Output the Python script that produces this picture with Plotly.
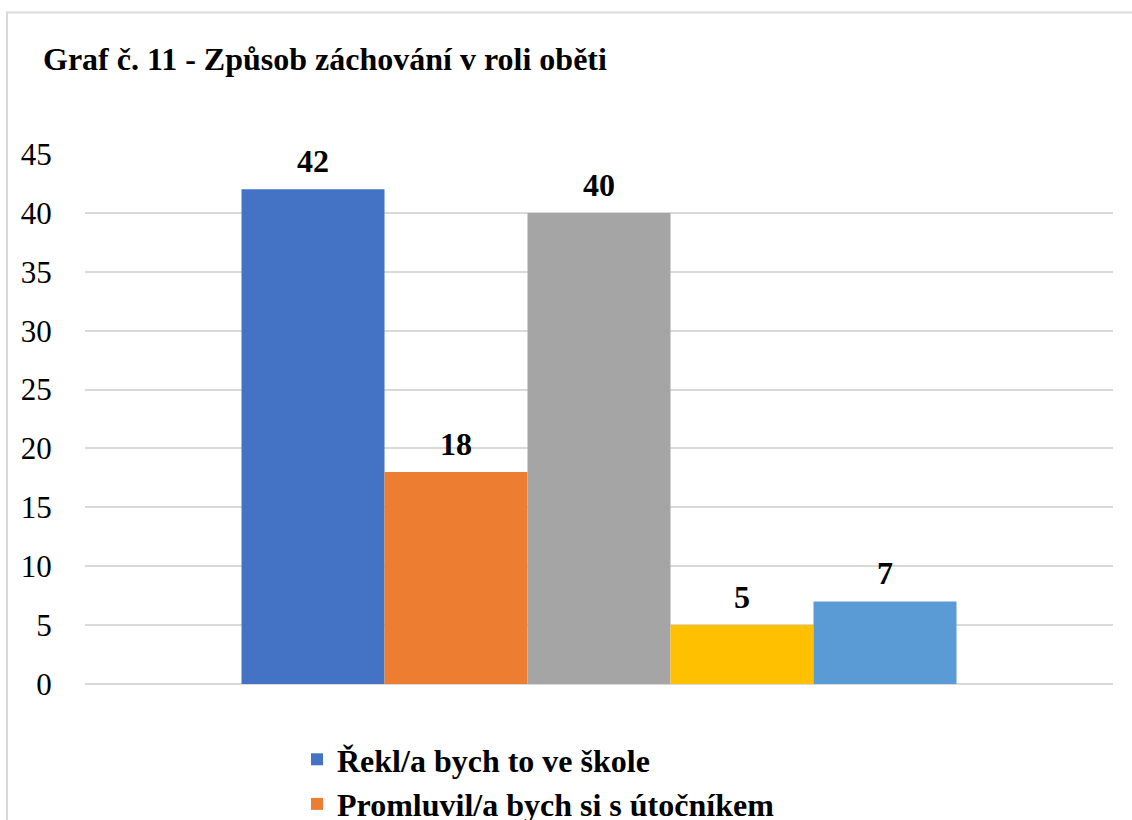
import plotly.graph_objects as go

category = [""]
series_names = [
    "Řekl/a bych to ve škole",
    "Promluvil/a bych si s útočníkem",
    "Řekl/a bych to rodičům",
    "Nikomu bych to neřekl/a",
    "Jiné",
]
series_values = [42, 18, 40, 5, 7]
series_colors = ["#4472C4", "#ED7D31", "#A5A5A5", "#FFC000", "#5B9BD5"]
y_ticks = [0, 5, 10, 15, 20, 25, 30, 35, 40, 45]

W, H = 1132, 940
L, R, T, B = 85, 19, 154, H - 684
FONT = "Times New Roman, Liberation Serif, DejaVu Serif, serif"

fig = go.Figure()
for i, (name, val, col) in enumerate(zip(series_names, series_values, series_colors)):
    fig.add_trace(go.Bar(
        x=category, y=[val], name=f"<b>{name}</b>",
        marker=dict(color=col, line=dict(width=0)),
        offsetgroup=str(i), alignmentgroup="g",
        hoverinfo="skip",
    ))
for i, val in enumerate(series_values):
    fig.add_trace(go.Scatter(
        x=category, y=[val], mode="markers+text",
        text=[f"<b>{val}</b>"], textposition="top center",
        textfont=dict(family=FONT, size=32, color="#000000"),
        marker=dict(size=13, opacity=0),
        offsetgroup=str(i), alignmentgroup="g",
        showlegend=False, hoverinfo="skip", cliponaxis=False,
    ))

plot_w = W - L - R
plot_h = H - T - B

def px_x(p):
    return (p - L) / plot_w

def px_y(p):
    return (H - B - p) / plot_h

fig.update_layout(
    width=W, height=H,
    margin=dict(l=L, r=R, t=T, b=B, autoexpand=False),
    paper_bgcolor="white", plot_bgcolor="white",
    font=dict(family=FONT, color="#000000"),
    barmode="group", bargap=0.3045, bargroupgap=0,
    scattermode="group",
    title=dict(text="<b>Graf č. 11 - Způsob záchování v roli oběti</b>",
               font=dict(family=FONT, size=32, color="#000000"),
               xref="container", x=43 / W, xanchor="left",
               yref="container", y=1 - 59 / H, yanchor="middle"),
    xaxis=dict(showticklabels=False, showgrid=False, zeroline=False,
               showline=False, ticks=""),
    yaxis=dict(range=[0, 45], tickvals=y_ticks, showgrid=True,
               gridcolor="#D9D9D9", gridwidth=2, zeroline=True,
               zerolinecolor="#D9D9D9", zerolinewidth=2, showline=False,
               ticks="outside", ticklen=26, tickcolor="rgba(0,0,0,0)",
               tickfont=dict(family=FONT, size=31, color="#000000")),
    showlegend=True,
    legend=dict(orientation="v", x=px_x(297), xanchor="left",
                y=px_y(732), yanchor="top",
                font=dict(family=FONT, size=32, color="#000000"),
                tracegroupgap=0, itemwidth=30,
                bgcolor="rgba(0,0,0,0)"),
    shapes=[dict(type="rect", xref="paper", yref="paper",
                 x0=px_x(7), x1=px_x(1160), y0=px_y(1000), y1=px_y(12.5),
                 line=dict(color="#D9D9D9", width=2), fillcolor="rgba(0,0,0,0)",
                 layer="below")],
)

fig.write_html(
    "out.html",
    config={"displayModeBar": False},
    post_script="document.body.style.margin='0';document.body.style.overflow='hidden';document.documentElement.style.overflow='hidden';",
)
